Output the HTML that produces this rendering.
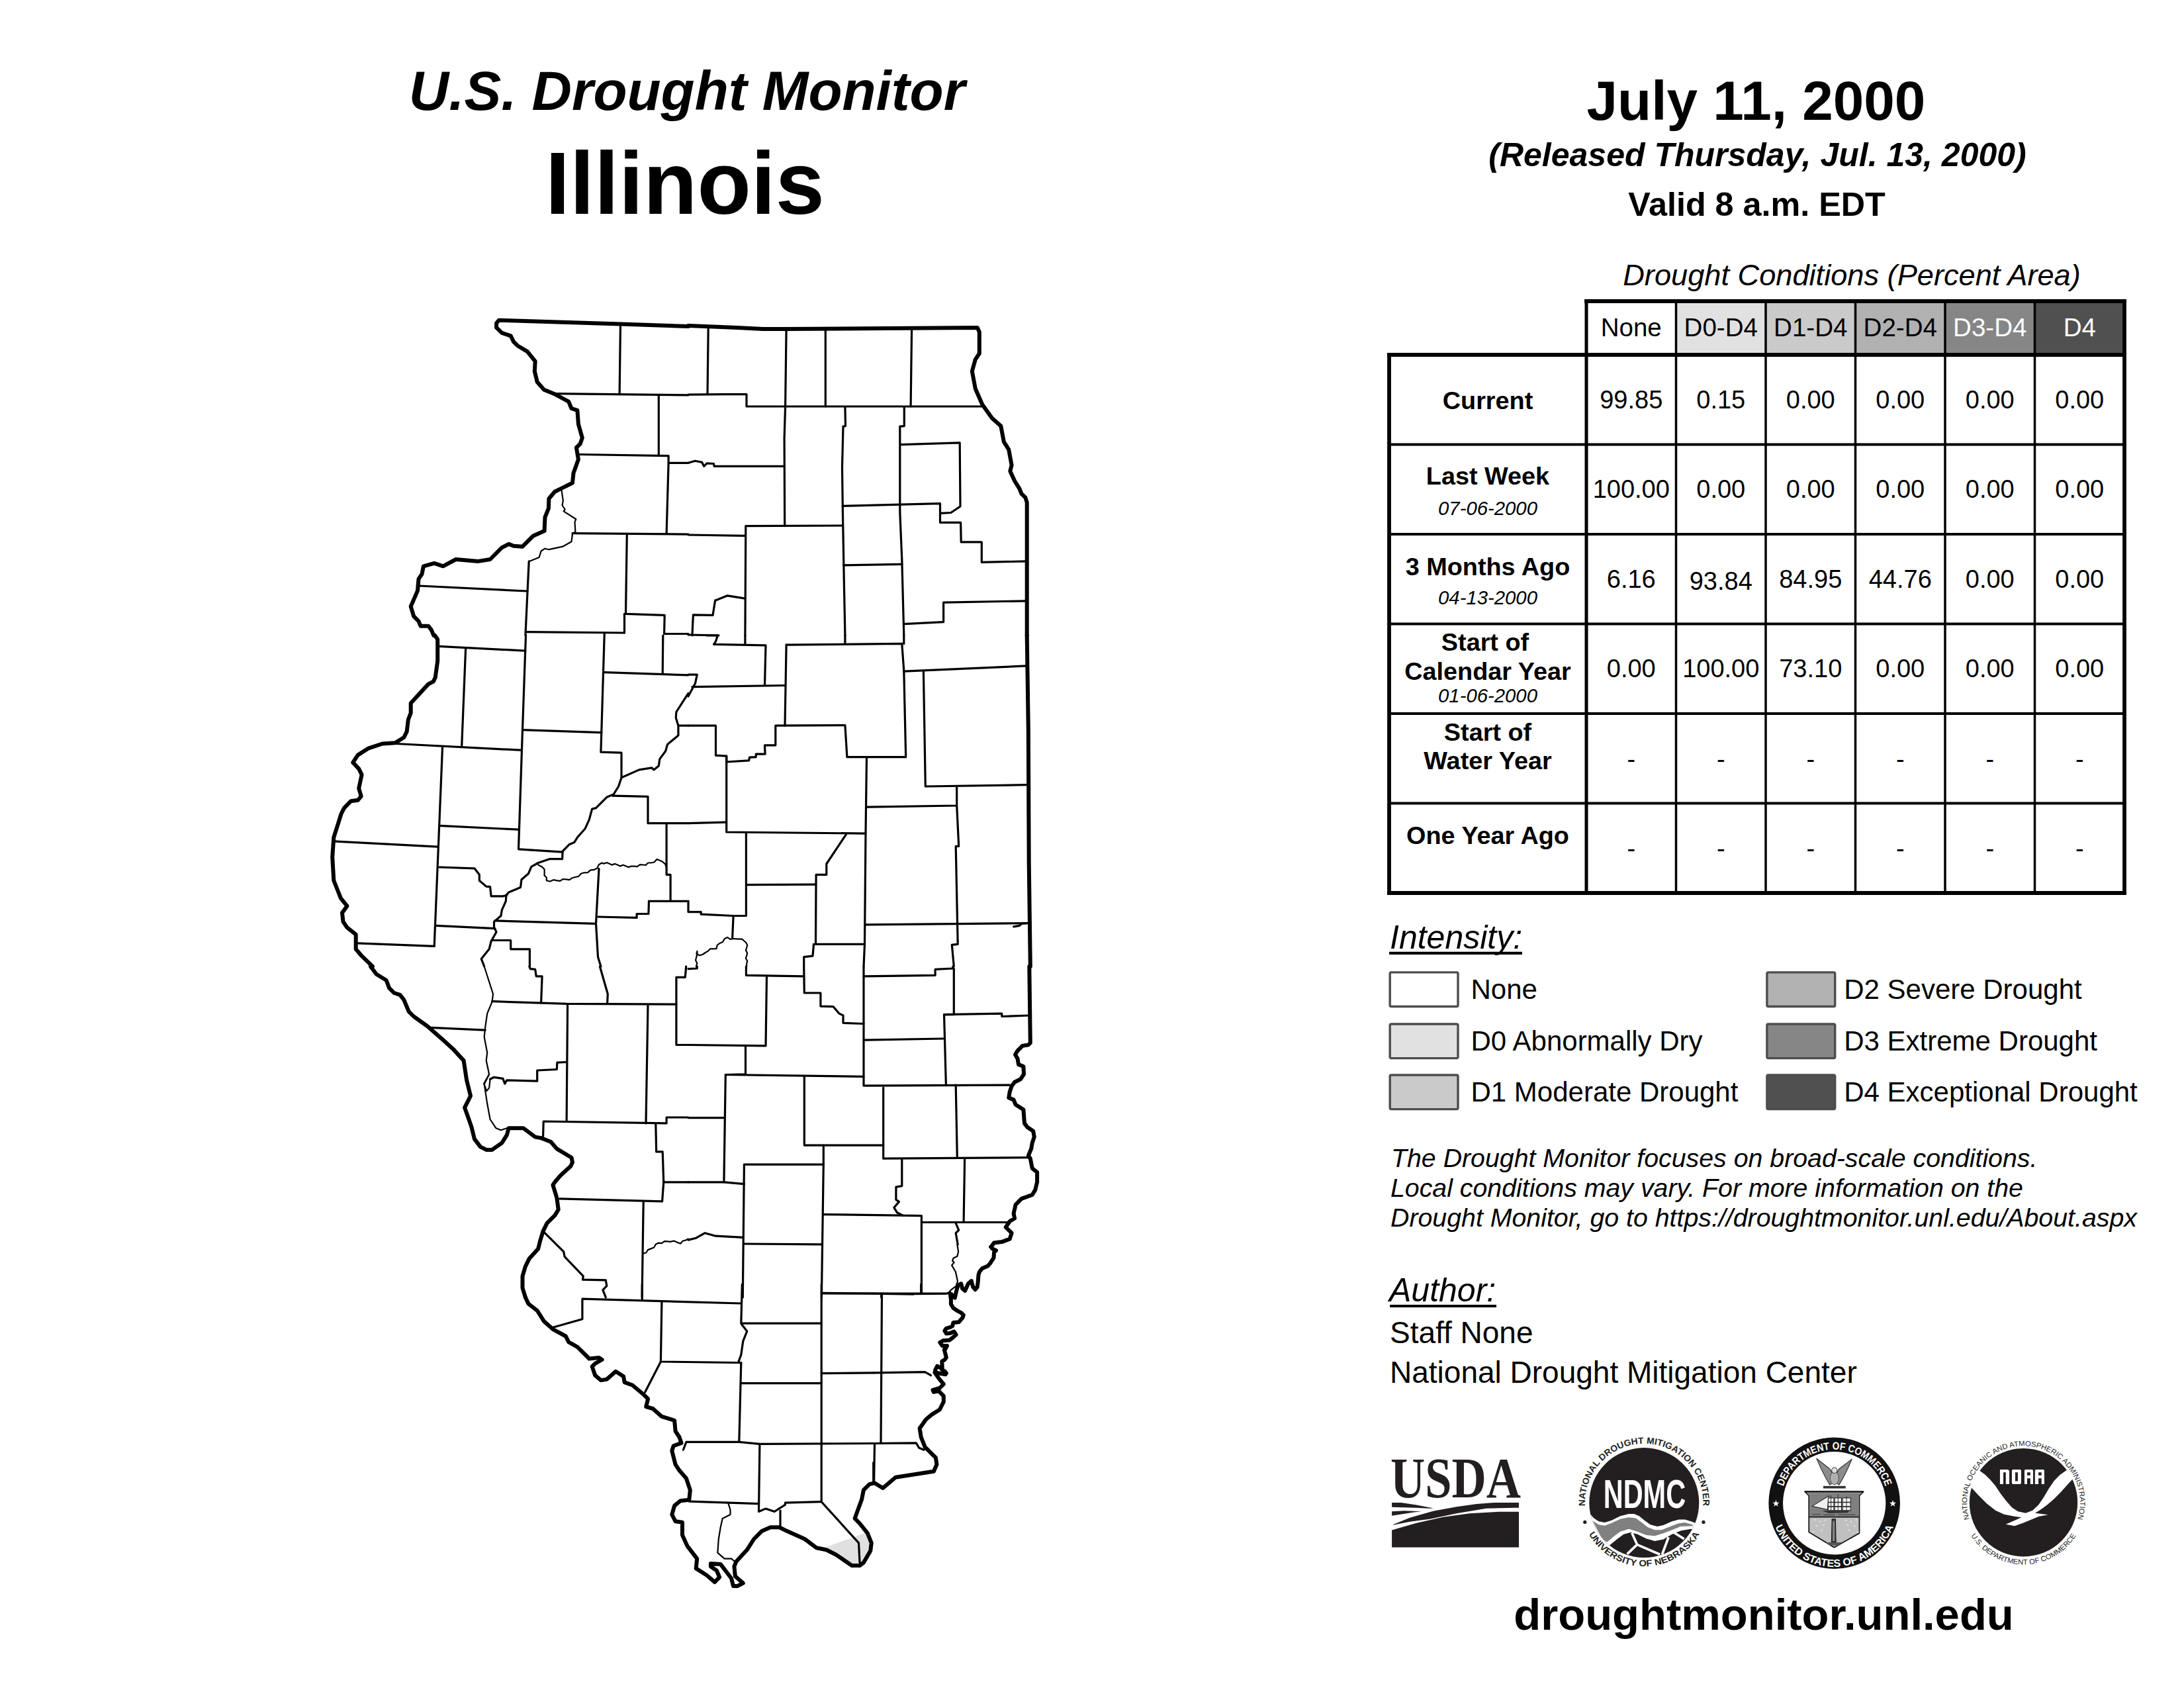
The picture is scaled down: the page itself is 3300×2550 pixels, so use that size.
<!DOCTYPE html>
<html><head><meta charset="utf-8"><style>
html,body{margin:0;padding:0;background:#fff;width:3300px;height:2550px;overflow:hidden}
svg{display:block}
</style></head><body>
<svg width="3300" height="2550" viewBox="0 0 3300 2550">
<rect width="3300" height="2550" fill="#fff"/>
<polygon points="1248.6,2336.8 1310.8,2314.6 1316.7,2330.9 1313.8,2342.7 1304.9,2360.5 1290.1,2362.9 1263.4,2348.1" fill="#e0e0e0" stroke="none"/>
<g fill="none" stroke="#000" stroke-linejoin="round" stroke-linecap="round">
<polyline points="848.7,741.3 850.8,756.1 849.6,763.5 853.7,769.5 851.7,772.4 870.3,784.3 868.5,788.7 869.4,803.5 865.0,806.5 863.5,818.3 850.2,825.7 829.4,830.2 823.5,828.7 817.6,832.5 814.6,842.0 799.8,847.9" stroke-width="2.2"/>
<polyline points="813.2,1306.5 819.3,1309.8 822.6,1313.3 822.7,1317.7 822.5,1322.2 825.8,1325.8 825.9,1330.2 831.0,1331.5 836.2,1329.2 841.3,1330.2 846.2,1330.9 850.6,1328.0 855.5,1328.4 860.4,1329.1 864.5,1326.3 869.4,1325.0 874.4,1323.9 877.9,1319.7 882.7,1318.3 888.1,1318.1 892.3,1314.4 897.6,1313.9 902.4,1311.4 904.8,1306.2 909.4,1303.5 912.2,1304.8 916.7,1303.1 920.7,1304.7 924.6,1306.6 929.1,1304.9 933.1,1306.5 937.1,1308.4 941.5,1306.7 945.5,1308.3 949.5,1310.1 953.7,1308.5 958.3,1308.7 962.9,1309.2 967.0,1306.2 971.6,1306.5 975.9,1306.8 979.2,1303.5 983.4,1303.5 988.5,1302.5 992.5,1298.1 996.8,1299.8 1000.1,1301.2 1005.0,1305.2 1007.1,1310.9" stroke-width="2.2"/>
<polyline points="1051.8,1459.9 1053.3,1455.3 1051.1,1450.6 1052.2,1446.0 1053.6,1441.4 1053.4,1436.8 1052.4,1441.2 1057.1,1443.3 1061.5,1442.0 1065.9,1439.0 1069.9,1436.6 1073.3,1433.3 1077.5,1433.3 1082.5,1433.2 1083.6,1428.0 1087.4,1424.9 1092.1,1423.0 1094.7,1418.2 1099.2,1416.1 1103.3,1418.8 1107.9,1418.0 1112.6,1418.3 1116.4,1418.7 1121.2,1418.6 1124.5,1421.5 1126.9,1423.5 1129.2,1427.5 1128.2,1431.6 1126.9,1435.6 1129.2,1439.6 1128.2,1443.7 1126.9,1447.7 1129.2,1451.8 1128.2,1455.8 1128.2,1459.9" stroke-width="2.2"/>
<polyline points="731.7,1460.0 745.0,1501.5 743.6,1513.3 736.2,1531.1 733.2,1551.8 731.7,1566.6 736.2,1590.3 734.7,1602.1 739.1,1622.9 731.7,1637.7 736.2,1667.3 740.6,1691.0 749.5,1704.3 756.9,1707.3 765.8,1704.3" stroke-width="2.2"/>
<polyline points="739.1,1622.9 731.1,1637.1 735.3,1648.0 739.1,1643.6 740.6,1630.3" stroke-width="2.2"/>
<polyline points="971.6,1893.8 976.2,1892.5 979.0,1888.1 983.4,1886.4 988.2,1884.5 990.7,1879.7 995.3,1877.6 999.9,1878.1 1004.0,1875.1 1008.6,1875.3 1012.8,1875.9 1018.2,1874.6 1022.9,1876.6 1028.4,1878.7 1031.5,1874.7 1036.0,1873.6 1040.0,1871.6" stroke-width="2.2"/>
<polyline points="1100.6,2271.7 1103.5,2280.6 1103.5,2288.0 1091.7,2293.9 1088.7,2307.2 1085.8,2325.0 1084.3,2345.7 1094.6,2354.6 1105.0,2354.6 1112.4,2360.5" stroke-width="2.2"/>
<polyline points="1446.4,1880.0 1448.1,1890.7 1446.4,1897.8 1440.4,1900.7 1439.2,1904.9 1441.6,1907.3 1438.1,1911.4 1444.0,1921.5 1447.0,1935.7 1444.6,1942.8 1436.9,1948.7 1433.9,1952.3 1428.6,1954.7 1380.0,1955.2" stroke-width="2.2"/>
<polyline points="937.5,489.6 936.1,594.7" stroke-width="3.2"/>
<polyline points="836.8,594.7 1040.0,596.8" stroke-width="3.2"/>
<polyline points="995.3,596.8 995.3,688.0" stroke-width="3.2"/>
<polyline points="875.3,686.5 1010.1,688.6 1010.1,699.3 1040.0,699.3" stroke-width="3.2"/>
<polyline points="1010.1,699.3 1007.1,806.5" stroke-width="3.2"/>
<polyline points="865.0,805.6 1040.0,807.1" stroke-width="3.2"/>
<polyline points="947.3,807.1 945.5,927.3 1004.2,929.4 1003.6,957.5 1040.0,957.5" stroke-width="3.2"/>
<polyline points="799.2,847.9 793.9,959.9" stroke-width="3.2"/>
<polyline points="634.0,885.0 796.9,893.0" stroke-width="3.2"/>
<polyline points="795.4,954.6 943.5,956.0" stroke-width="3.2"/>
<polyline points="943.5,927.3 943.5,956.0" stroke-width="3.2"/>
<polyline points="1070.2,494.9 1069.0,595.6" stroke-width="3.2"/>
<polyline points="1040.0,596.2 1094.8,595.6 1128.0,595.6 1128.0,614.0 1485.7,614.0" stroke-width="3.2"/>
<polyline points="1188.1,497.0 1186.6,614.0 1185.1,661.4 1185.7,794.6" stroke-width="3.2"/>
<polyline points="1247.3,497.0 1247.3,614.0" stroke-width="3.2"/>
<polyline points="1377.6,497.0 1376.1,614.0" stroke-width="3.2"/>
<polyline points="1276.9,614.6 1277.5,643.6 1274.0,644.2 1272.5,705.8 1273.4,773.9 1275.4,883.5 1276.9,959.9" stroke-width="3.2"/>
<polyline points="1366.3,614.6 1366.3,643.6 1359.8,644.2 1359.8,773.9 1362.8,845.0 1365.8,959.9" stroke-width="3.2"/>
<polyline points="1040.0,699.3 1050.4,696.3 1060.7,698.4 1063.7,704.3 1068.1,699.9 1078.5,700.5 1079.1,704.3 1185.1,704.3" stroke-width="3.2"/>
<polyline points="1040.0,808.0 1125.9,809.4" stroke-width="3.2"/>
<polyline points="1125.9,959.9 1126.8,794.6 1272.5,794.0" stroke-width="3.2"/>
<polyline points="1273.4,764.4 1420.5,760.6 1420.5,789.3 1451.6,789.3 1452.2,818.9 1483.3,818.9 1483.3,849.4 1551.7,847.9" stroke-width="3.2"/>
<polyline points="1361.3,671.7 1450.2,668.8 1451.0,765.0 1436.8,774.5 1421.4,775.4" stroke-width="3.2"/>
<polyline points="1274.5,853.9 1362.8,852.4" stroke-width="3.2"/>
<polyline points="1365.8,942.7 1425.6,939.7 1425.6,910.1 1551.7,907.8" stroke-width="3.2"/>
<polyline points="1080.6,907.2 1099.2,899.8 1125.9,904.2" stroke-width="3.2"/>
<polyline points="1080.6,907.2 1077.0,929.4 1047.4,928.8 1045.9,959.9" stroke-width="3.2"/>
<polyline points="1040.0,959.0 1085.9,959.9" stroke-width="3.2"/>
<polyline points="663.0,976.3 793.9,983.1" stroke-width="3.2"/>
<polyline points="794.5,960.0 789.5,1102.1 783.5,1282.8 850.2,1287.2" stroke-width="3.2"/>
<polyline points="703.6,980.1 697.7,1127.3" stroke-width="3.2"/>
<polyline points="598.5,1123.5 786.5,1133.2" stroke-width="3.2"/>
<polyline points="668.6,1127.3 656.2,1429.4" stroke-width="3.2"/>
<polyline points="664.2,1247.3 783.5,1253.2" stroke-width="3.2"/>
<polyline points="505.2,1270.9 661.2,1279.2" stroke-width="3.2"/>
<polyline points="539.2,1424.9 656.2,1429.4" stroke-width="3.2"/>
<polyline points="659.2,1398.3 748.0,1402.7" stroke-width="3.2"/>
<polyline points="789.5,1102.7 908.8,1106.6" stroke-width="3.2"/>
<polyline points="913.3,956.4 907.9,1136.2 939.0,1137.1 939.0,1174.7" stroke-width="3.2"/>
<polyline points="913.0,1015.7 1040.0,1019.8" stroke-width="3.2"/>
<polyline points="1001.8,960.0 1001.2,1017.7" stroke-width="3.2"/>
<polyline points="1040.0,1047.4 1021.9,1075.5 1021.3,1084.4 1024.9,1096.2 1040.0,1096.2" stroke-width="3.2"/>
<polyline points="1024.9,1096.2 1024.9,1111.0 1008.6,1124.4 1005.6,1134.7 996.8,1146.6 995.3,1156.9 987.9,1162.9 984.9,1159.9 965.7,1162.9 939.0,1174.7 934.6,1188.0 927.2,1199.9 916.8,1204.3 900.5,1220.6 894.6,1222.1 890.2,1238.4 884.2,1251.7 872.4,1265.0 867.9,1272.4 860.5,1275.4 850.2,1285.8 849.6,1297.6 830.9,1297.6 813.2,1303.5 802.8,1309.4 798.4,1319.8 788.0,1328.7 786.5,1340.5 768.7,1347.9 764.9,1352.4 764.3,1361.3 758.4,1374.6 756.9,1383.5 746.5,1392.4 746.5,1401.2 750.1,1407.8 742.1,1422.0 739.1,1433.8 727.3,1448.6 731.7,1459.9" stroke-width="3.2"/>
<polyline points="925.7,1202.2 979.0,1203.4 979.0,1243.7 1040.0,1243.7" stroke-width="3.2"/>
<polyline points="1007.1,1244.3 1007.1,1321.3 1013.1,1321.3 1013.1,1361.3 1040.0,1361.3" stroke-width="3.2"/>
<polyline points="980.5,1361.3 979.9,1380.5 962.1,1380.5 962.1,1386.4 903.5,1385.0" stroke-width="3.2"/>
<polyline points="905.0,1312.4 900.5,1395.3 903.5,1445.7 907.9,1459.9" stroke-width="3.2"/>
<polyline points="663.6,1310.0 716.9,1311.8 724.3,1321.3 724.3,1330.2 734.7,1339.1 740.6,1339.7 742.1,1353.9 759.9,1353.9 765.8,1352.4" stroke-width="3.2"/>
<polyline points="748.0,1390.9 900.5,1395.3" stroke-width="3.2"/>
<polyline points="743.6,1420.5 771.7,1420.5 771.7,1433.8 800.4,1433.8 800.4,1459.9" stroke-width="3.2"/>
<polyline points="980.5,1361.3 1013.1,1361.3" stroke-width="3.2"/>
<polyline points="1068.1,960.0 1084.4,960.0 1081.5,968.9 1078.5,973.3 1157.0,974.8 1155.5,1035.5" stroke-width="3.2"/>
<polyline points="1125.9,960.0 1125.9,973.3" stroke-width="3.2"/>
<polyline points="1276.9,960.0 1276.9,972.4" stroke-width="3.2"/>
<polyline points="1365.8,960.0 1365.8,972.4" stroke-width="3.2"/>
<polyline points="1188.1,974.2 1362.8,972.4 1365.8,1013.3 1368.7,1143.6 1279.9,1143.6 1276.9,1095.6 1171.8,1096.2 1171.8,1125.8 1155.5,1125.8 1156.1,1139.2 1142.2,1139.2 1142.2,1143.6 1132.4,1144.2 1131.8,1148.9 1097.7,1151.0 1097.7,1142.1 1081.5,1141.2 1081.5,1096.2 1040.0,1096.2" stroke-width="3.2"/>
<polyline points="1188.1,974.2 1186.0,1096.2" stroke-width="3.2"/>
<polyline points="1040.0,1019.2 1053.3,1019.2 1050.4,1032.6 1040.0,1051.8" stroke-width="3.2"/>
<polyline points="1045.9,1037.6 1185.1,1035.5" stroke-width="3.2"/>
<polyline points="1365.8,1014.2 1551.7,1005.9" stroke-width="3.2"/>
<polyline points="1395.4,1014.8 1398.3,1188.0 1551.7,1185.7" stroke-width="3.2"/>
<polyline points="1309.5,1144.2 1308.0,1259.1 1097.7,1257.0 1097.7,1142.1" stroke-width="3.2"/>
<polyline points="1040.0,1243.7 1096.3,1242.2" stroke-width="3.2"/>
<polyline points="1309.5,1219.1 1445.7,1217.0 1445.7,1189.5" stroke-width="3.2"/>
<polyline points="1445.7,1217.0 1448.7,1278.4 1444.2,1278.4 1447.2,1426.4 1438.3,1427.3 1441.3,1459.9" stroke-width="3.2"/>
<polyline points="1308.0,1259.1 1306.5,1426.4 1305.0,1459.9" stroke-width="3.2"/>
<polyline points="1127.4,1258.5 1127.4,1383.5 1108.1,1383.5 1059.2,1381.1 1059.2,1377.6 1040.0,1377.6 1040.0,1361.3" stroke-width="3.2"/>
<polyline points="1278.4,1260.6 1248.8,1305.0 1248.8,1321.3 1233.1,1321.3 1232.5,1426.4 1306.5,1426.4" stroke-width="3.2"/>
<polyline points="1128.2,1336.7 1232.5,1336.1" stroke-width="3.2"/>
<polyline points="1308.0,1396.8 1551.7,1394.7" stroke-width="3.2"/>
<polyline points="1229.5,1426.4 1228.0,1444.2 1214.7,1445.7 1214.7,1459.9" stroke-width="3.2"/>
<polyline points="1108.1,1383.5 1106.6,1417.5" stroke-width="3.2"/>
<polyline points="1531.6,1399.8 1540.5,1398.3 1543.4,1395.3 1552.3,1394.7" stroke-width="3.2"/>
<polyline points="799.8,1460.0 801.3,1463.6 808.7,1464.4 810.2,1474.8 819.1,1474.8 817.6,1514.8" stroke-width="3.2"/>
<polyline points="906.4,1460.0 918.3,1501.5 917.7,1514.8" stroke-width="3.2"/>
<polyline points="743.6,1512.7 856.1,1516.3 1021.9,1517.2 1021.9,1578.5 1040.0,1578.5" stroke-width="3.2"/>
<polyline points="1021.9,1517.2 1021.9,1476.3 1035.3,1476.3 1036.7,1460.0" stroke-width="3.2"/>
<polyline points="650.3,1552.4 733.2,1556.2" stroke-width="3.2"/>
<polyline points="857.6,1516.3 856.1,1694.0" stroke-width="3.2"/>
<polyline points="979.0,1517.7 976.0,1696.9" stroke-width="3.2"/>
<polyline points="820.6,1716.2 821.2,1694.0 1007.1,1696.9 1007.1,1688.0 1040.0,1688.0" stroke-width="3.2"/>
<polyline points="990.8,1698.4 991.7,1739.9 1001.2,1739.9 1002.7,1785.8 1000.6,1814.8 845.7,1810.9" stroke-width="3.2"/>
<polyline points="1002.7,1785.8 1040.0,1785.8" stroke-width="3.2"/>
<polyline points="972.2,1815.4 970.1,1959.9" stroke-width="3.2"/>
<polyline points="822.0,1861.3 851.7,1890.9 853.1,1898.3 881.3,1927.9 880.4,1933.2 915.3,1933.8 916.8,1942.7 910.9,1948.6 915.3,1959.9" stroke-width="3.2"/>
<polyline points="740.6,1630.3 746.5,1627.3 759.9,1629.4 762.8,1637.1 765.8,1631.8 811.7,1633.2 811.7,1617.0 841.3,1615.5 841.9,1605.1 855.5,1604.5" stroke-width="3.2"/>
<polyline points="1040.0,1463.6 1053.3,1463.0 1053.3,1460.0" stroke-width="3.2"/>
<polyline points="1127.4,1460.0 1127.4,1473.3 1214.7,1474.8" stroke-width="3.2"/>
<polyline points="1214.7,1460.0 1215.3,1500.0 1239.9,1500.0 1239.9,1520.1 1259.1,1520.7 1268.0,1531.1 1274.0,1534.0 1274.0,1545.3 1305.0,1546.5" stroke-width="3.2"/>
<polyline points="1305.0,1460.0 1305.0,1474.8 1413.1,1473.3 1413.1,1464.4 1439.8,1463.0 1439.8,1460.0" stroke-width="3.2"/>
<polyline points="1158.5,1474.8 1157.0,1579.9 1040.0,1578.5" stroke-width="3.2"/>
<polyline points="1305.0,1474.8 1305.0,1640.1 1525.7,1639.2" stroke-width="3.2"/>
<polyline points="1441.3,1463.0 1441.3,1532.6 1426.5,1532.6 1429.4,1639.2" stroke-width="3.2"/>
<polyline points="1426.5,1532.6 1513.8,1531.1 1513.8,1535.5 1555.3,1534.0" stroke-width="3.2"/>
<polyline points="1306.5,1571.1 1426.5,1569.0" stroke-width="3.2"/>
<polyline points="1126.5,1579.9 1126.5,1622.9 1096.3,1623.5 1093.9,1785.8 1040.0,1785.8" stroke-width="3.2"/>
<polyline points="1096.3,1623.5 1305.0,1626.4" stroke-width="3.2"/>
<polyline points="1040.0,1688.6 1093.9,1688.6" stroke-width="3.2"/>
<polyline points="1215.3,1626.4 1215.3,1730.1 1334.7,1730.1 1334.7,1643.0" stroke-width="3.2"/>
<polyline points="1334.7,1730.1 1334.7,1750.2 1555.3,1748.7" stroke-width="3.2"/>
<polyline points="1444.2,1639.2 1446.3,1748.7" stroke-width="3.2"/>
<polyline points="1244.3,1730.1 1244.3,1759.1 1124.4,1759.1 1122.3,1959.9" stroke-width="3.2"/>
<polyline points="1093.9,1785.8 1124.4,1788.7" stroke-width="3.2"/>
<polyline points="1244.3,1759.1 1241.4,1959.9" stroke-width="3.2"/>
<polyline points="1362.8,1751.7 1362.8,1791.7 1353.9,1793.2 1353.9,1812.4 1358.4,1815.4 1350.9,1824.3 1355.4,1831.7 1364.3,1836.1 1392.4,1836.7 1392.4,1954.0" stroke-width="3.2"/>
<polyline points="1244.3,1834.6 1364.3,1836.1" stroke-width="3.2"/>
<polyline points="1457.6,1751.7 1456.1,1846.5" stroke-width="3.2"/>
<polyline points="1392.4,1846.5 1525.7,1846.5" stroke-width="3.2"/>
<polyline points="1124.4,1879.0 1241.4,1879.9" stroke-width="3.2"/>
<polyline points="1040.0,1873.1 1051.8,1870.2 1065.2,1862.7 1081.5,1867.2 1122.9,1869.3" stroke-width="3.2"/>
<polyline points="1444.2,1847.9 1448.7,1858.3 1444.2,1862.7 1447.2,1879.9" stroke-width="3.2"/>
<polyline points="1241.4,1954.0 1433.9,1954.0" stroke-width="3.2"/>
<polyline points="1331.7,1954.0 1331.7,1959.9" stroke-width="3.2"/>
<polyline points="970.3,1940.0 970.3,1963.7" stroke-width="3.2"/>
<polyline points="835.5,2005.2 879.9,1992.7 879.9,1962.2 1119.8,1969.0" stroke-width="3.2"/>
<polyline points="1121.3,1940.0 1119.8,1999.2 1239.7,1999.2" stroke-width="3.2"/>
<polyline points="999.9,1966.7 998.4,2057.0 1112.4,2058.5 1119.8,2058.5" stroke-width="3.2"/>
<polyline points="998.4,2057.0 974.7,2102.9" stroke-width="3.2"/>
<polyline points="1120.7,2000.7 1128.7,2011.1 1122.8,2025.9 1119.8,2046.6 1115.4,2058.5" stroke-width="3.2"/>
<polyline points="1119.8,2058.5 1116.8,2178.4 1036.9,2178.4 1032.4,2190.2" stroke-width="3.2"/>
<polyline points="1120.7,2089.6 1239.7,2089.6" stroke-width="3.2"/>
<polyline points="1241.2,1940.0 1241.2,2268.7 1297.5,2330.9 1299.0,2360.5" stroke-width="3.2"/>
<polyline points="1242.7,1953.3 1320.0,1954.2" stroke-width="3.2"/>
<polyline points="1241.2,2074.7 1320.0,2073.9" stroke-width="3.2"/>
<polyline points="1116.8,2178.4 1147.9,2181.4 1320.0,2180.5" stroke-width="3.2"/>
<polyline points="1147.9,2181.4 1146.5,2283.5 1156.8,2279.1 1170.2,2283.5 1186.4,2273.2 1186.4,2270.2 1241.2,2268.7" stroke-width="3.2"/>
<polyline points="1041.3,2268.1 1146.5,2271.7" stroke-width="3.2"/>
<polyline points="1179.0,2282.0 1179.0,2307.2" stroke-width="3.2"/>
<polyline points="1319.7,2209.5 1319.7,2240.6" stroke-width="3.2"/>
<polyline points="1391.7,1940.0 1391.7,1953.3" stroke-width="3.2"/>
<polyline points="1320.0,1954.2 1379.9,1955.1" stroke-width="3.2"/>
<polyline points="1332.5,1955.4 1331.0,2179.9" stroke-width="3.2"/>
<polyline points="1320.0,2073.9 1397.6,2072.7 1406.5,2077.7" stroke-width="3.2"/>
<polyline points="1320.0,2180.5 1384.3,2179.9 1388.7,2187.3 1396.1,2190.2" stroke-width="3.2"/>
<polyline points="1321.5,2181.4 1320.6,2239.1" stroke-width="3.2"/>
<polyline points="1040.0,492.9 937.5,489.6 753.9,483.7 750.1,488.1 750.1,494.9 758.4,502.9 771.7,507.4 776.1,516.3 782.1,522.2 796.9,531.1 808.7,545.9 807.8,560.7 811.7,577.0 822.0,588.8 836.8,594.7 859.1,606.6 863.5,617.0 872.4,619.9 873.9,640.6 879.8,661.4 876.8,670.3 870.9,676.2 873.9,694.0 866.5,714.7 865.0,729.5 850.2,736.9 838.3,742.8 829.4,753.2 828.9,768.0 823.5,781.3 822.6,802.0 805.8,809.4 789.5,825.7 776.1,824.8 768.7,821.9 758.4,827.2 740.6,845.0 722.8,847.9 688.8,845.0 669.5,855.3 656.2,850.9 639.9,855.3 637.5,867.2 632.5,874.6 631.0,892.4 620.7,916.1 625.1,930.9 632.5,938.3 635.5,945.7 647.3,945.7 651.8,951.6 655.3,959.9" stroke-width="6"/>
<polyline points="1040.0,492.0 1114.0,494.9 1152.5,497.0 1188.1,497.0 1476.8,494.9 1479.8,501.5 1479.8,534.0 1473.8,542.9 1468.8,560.7 1473.8,587.3 1484.2,611.0 1499.0,631.8 1512.3,643.6 1516.8,667.3 1524.2,679.1 1528.6,702.8 1526.3,711.7 1533.1,726.5 1540.5,738.4 1543.4,745.8 1549.4,751.7 1551.7,759.1 1551.7,959.9" stroke-width="6"/>
<polyline points="657.1,960.0 661.2,965.9 661.2,998.5 657.7,1023.7 654.7,1029.6 647.3,1033.4 639.9,1041.4 620.7,1062.2 620.7,1077.0 616.8,1087.3 614.7,1105.1 610.3,1114.0 597.0,1122.3 577.7,1123.5 557.0,1130.3 540.7,1140.6 533.3,1151.9 542.2,1161.4 546.6,1170.3 542.2,1191.0 545.7,1202.8 540.7,1208.8 530.3,1210.2 520.0,1220.6 515.5,1229.5 508.1,1253.2 504.3,1265.0 502.2,1294.6 504.3,1330.2 514.9,1356.8 524.4,1368.7 517.0,1379.0 518.5,1392.4 524.4,1401.2 537.7,1411.6 537.7,1433.8 546.6,1444.2 562.9,1459.9" stroke-width="6"/>
<polyline points="1551.7,960.0 1553.8,1102.1 1554.7,1303.5 1556.8,1459.9" stroke-width="6"/>
<polyline points="560.0,1460.0 568.8,1471.8 583.6,1480.7 588.1,1492.6 595.5,1500.0 604.4,1502.9 610.3,1510.3 617.7,1528.1 625.1,1535.5 645.8,1550.3 669.5,1571.1 684.3,1584.4 700.6,1602.1 705.1,1631.8 711.0,1655.5 705.1,1667.3 702.1,1673.2 709.5,1694.0 712.5,1702.8 716.9,1720.6 725.8,1732.4 734.7,1736.9 743.6,1736.9 758.4,1726.5 765.8,1714.7 768.7,1704.3 790.9,1704.3 808.7,1717.6 817.6,1719.1 832.4,1725.0 841.3,1735.4 863.5,1748.7 865.0,1756.1 862.0,1762.1 847.2,1775.4 838.3,1785.8 835.4,1790.2 841.3,1809.4 843.7,1827.2 838.3,1836.1 826.5,1847.9 820.6,1859.8 816.1,1874.6 813.2,1886.4 799.8,1901.2 793.9,1913.1 789.5,1927.9 789.5,1945.7 793.9,1959.9" stroke-width="6"/>
<polyline points="1555.3,1460.0 1556.8,1575.5 1553.8,1578.5 1544.9,1579.9 1537.5,1587.3 1534.0,1593.3 1537.5,1599.2 1539.0,1608.1 1546.4,1611.0 1547.0,1622.9 1542.0,1630.3 1533.1,1634.7 1528.6,1640.6 1525.7,1649.5 1524.2,1658.4 1531.6,1661.4 1534.6,1668.8 1546.4,1676.2 1547.9,1696.9 1552.3,1702.8 1561.2,1708.8 1562.7,1717.6 1559.7,1726.5 1558.2,1735.4 1553.8,1745.8 1556.8,1750.2 1559.7,1765.0 1567.1,1770.9 1567.1,1785.8 1564.2,1797.6 1559.7,1805.0 1543.4,1810.9 1534.6,1819.8 1531.6,1833.1 1533.1,1840.5 1525.7,1845.0 1519.7,1853.9 1528.6,1862.7 1525.7,1871.6 1513.8,1876.1 1502.0,1877.6 1497.5,1883.5" stroke-width="6"/>
<polyline points="793.8,1959.8 798.5,1969.6 811.8,1980.0 822.2,1996.3 835.5,2008.1 854.8,2018.5 859.2,2027.4 872.5,2034.8 890.3,2052.5 905.1,2051.1 909.6,2054.0 899.2,2059.9 894.7,2064.4 899.2,2077.7 908.1,2085.1 917.0,2083.6 930.3,2071.8 942.1,2079.2 943.6,2088.1 955.5,2092.5 973.2,2107.3 979.1,2113.2 976.2,2125.1 986.5,2128.0 999.9,2139.9 1019.1,2145.8 1020.6,2162.1 1026.5,2171.0 1029.5,2179.9 1017.6,2184.3 1015.3,2191.7 1020.6,2212.4 1026.5,2221.3 1036.9,2233.2 1042.8,2250.9 1041.3,2265.8 1028.0,2267.2 1019.1,2274.6 1015.3,2288.0 1020.6,2298.3 1031.0,2299.8 1031.0,2319.1 1038.4,2335.3 1053.2,2354.6 1051.7,2369.4 1068.0,2379.8 1079.8,2390.1 1087.2,2382.7 1082.8,2372.4 1073.9,2366.4 1073.9,2362.0 1088.7,2362.9 1105.0,2384.2 1108.0,2396.1 1113.9,2396.1 1122.8,2391.6 1110.9,2381.2 1109.4,2366.4 1112.4,2359.0 1128.7,2341.3 1139.1,2325.0 1150.9,2313.1 1164.2,2307.2 1177.6,2307.2 1189.4,2313.1 1216.1,2325.0 1233.8,2338.3 1248.6,2341.3 1263.4,2348.7 1287.1,2365.0 1299.0,2365.0 1304.9,2360.5 1315.3,2342.7 1316.7,2330.9 1310.8,2316.1 1299.0,2301.3 1291.6,2293.9 1297.5,2277.6 1301.9,2265.8 1304.9,2250.9 1313.8,2242.1 1320.0,2240.6" stroke-width="6"/>
<polyline points="1428.7,2076.2 1419.8,2074.7 1412.4,2073.3 1418.4,2082.1 1425.8,2091.0 1419.8,2097.0 1409.5,2099.9 1410.9,2102.9 1418.4,2101.4 1425.8,2108.8 1425.8,2117.7 1419.8,2129.5 1408.0,2136.9 1399.1,2144.3 1389.6,2157.7 1391.7,2171.0 1397.6,2185.8 1413.9,2202.1 1415.4,2212.4 1410.9,2222.8 1353.2,2231.7 1334.0,2248.0 1320.6,2239.7" stroke-width="6"/>
<polyline points="1497.3,1883.6 1499.7,1886.5 1505.0,1888.9 1502.1,1891.8 1501.5,1900.1 1496.1,1908.4 1492.6,1912.6 1484.3,1916.1 1480.1,1920.9 1478.4,1926.2 1477.8,1935.7 1476.6,1944.6 1473.6,1948.1 1470.1,1944.0 1467.7,1935.1 1462.9,1939.2 1458.2,1949.9 1454.1,1946.4 1452.3,1939.2 1447.5,1941.6 1444.6,1952.3 1442.8,1960.6 1438.1,1955.8 1435.7,1954.1 1436.9,1962.9 1436.9,1970.1 1440.4,1976.0 1446.4,1980.1 1452.3,1983.1 1455.8,1986.6 1454.7,1990.2 1448.7,1997.3 1440.4,1997.9 1439.2,2003.2 1435.7,2005.0 1429.8,2006.8 1427.4,2010.3 1429.8,2014.5 1435.7,2013.9 1441.6,2011.5 1444.6,2016.3 1439.2,2021.0 1434.5,2024.6 1425.0,2025.2 1420.3,2028.1 1423.8,2032.9 1431.0,2032.9 1428.6,2037.6 1426.8,2038.8 1429.8,2050.6 1427.4,2054.2 1423.3,2056.6 1423.8,2069.6 1427.4,2071.4 1429.8,2074.3" stroke-width="6"/>
<polyline points="1413.2,2069.6 1416.1,2063.7 1421.5,2066.6 1425.0,2070.8" stroke-width="6"/>
</g>
<rect x="2397" y="455" width="135.5" height="81" fill="#ffffff"/><rect x="2532.5" y="455" width="135.5" height="81" fill="#e1e1e1"/><rect x="2668" y="455" width="135.5" height="81" fill="#cacaca"/><rect x="2803.5" y="455" width="135.5" height="81" fill="#b1b1b1"/><rect x="2939" y="455" width="135.5" height="81" fill="#868686"/><rect x="3074.5" y="455" width="135.5" height="81" fill="#505050"/><rect x="2099" y="1437.8" width="201" height="4.2" fill="#000"/><rect x="2100.2" y="1468.9" width="102.8" height="51.6" rx="2" fill="#ffffff" stroke="#4d4d4d" stroke-width="3.4"/><rect x="2100.2" y="1547.0" width="102.8" height="51.6" rx="2" fill="#e1e1e1" stroke="#4d4d4d" stroke-width="3.4"/><rect x="2100.2" y="1624.0" width="102.8" height="51.6" rx="2" fill="#cacaca" stroke="#4d4d4d" stroke-width="3.4"/><rect x="2669.8999999999996" y="1468.9" width="102.8" height="51.6" rx="2" fill="#b1b1b1" stroke="#4d4d4d" stroke-width="3.4"/><rect x="2669.8999999999996" y="1547.0" width="102.8" height="51.6" rx="2" fill="#868686" stroke="#4d4d4d" stroke-width="3.4"/><rect x="2669.8999999999996" y="1624.0" width="102.8" height="51.6" rx="2" fill="#505050" stroke="#4d4d4d" stroke-width="3.4"/><rect x="2100" y="1971" width="161" height="4" fill="#000"/>
<line x1="2397" y1="455" x2="3210" y2="455" stroke="#000" stroke-width="5.8" stroke-linecap="square"/><line x1="2532.5" y1="455" x2="2532.5" y2="1349" stroke="#000" stroke-width="3.5" stroke-linecap="square"/><line x1="2668" y1="455" x2="2668" y2="1349" stroke="#000" stroke-width="3.5" stroke-linecap="square"/><line x1="2803.5" y1="455" x2="2803.5" y2="1349" stroke="#000" stroke-width="3.5" stroke-linecap="square"/><line x1="2939" y1="455" x2="2939" y2="1349" stroke="#000" stroke-width="3.5" stroke-linecap="square"/><line x1="3074.5" y1="455" x2="3074.5" y2="1349" stroke="#000" stroke-width="3.5" stroke-linecap="square"/><line x1="2397" y1="455" x2="2397" y2="1349" stroke="#000" stroke-width="5" stroke-linecap="square"/><line x1="3210" y1="455" x2="3210" y2="1349" stroke="#000" stroke-width="5.8" stroke-linecap="square"/><line x1="2099" y1="536" x2="3210" y2="536" stroke="#000" stroke-width="5.8" stroke-linecap="square"/><line x1="2099" y1="536" x2="2099" y2="1349" stroke="#000" stroke-width="5.8" stroke-linecap="square"/><line x1="2099" y1="671.5" x2="3210" y2="671.5" stroke="#000" stroke-width="4" stroke-linecap="square"/><line x1="2099" y1="807" x2="3210" y2="807" stroke="#000" stroke-width="4" stroke-linecap="square"/><line x1="2099" y1="942.5" x2="3210" y2="942.5" stroke="#000" stroke-width="4" stroke-linecap="square"/><line x1="2099" y1="1078" x2="3210" y2="1078" stroke="#000" stroke-width="4" stroke-linecap="square"/><line x1="2099" y1="1213.5" x2="3210" y2="1213.5" stroke="#000" stroke-width="4" stroke-linecap="square"/><line x1="2099" y1="1349" x2="3210" y2="1349" stroke="#000" stroke-width="5.8" stroke-linecap="square"/>
<text x="1038" y="166" font-family="Liberation Sans, sans-serif" font-size="83.6" font-weight="bold" font-style="italic" text-anchor="middle" fill="#000" >U.S. Drought Monitor</text><text x="1035" y="323" font-family="Liberation Sans, sans-serif" font-size="133.2" font-weight="bold" font-style="normal" text-anchor="middle" fill="#000" >Illinois</text><text x="2653.5" y="181" font-family="Liberation Sans, sans-serif" font-size="83.7" font-weight="bold" font-style="normal" text-anchor="middle" fill="#000" >July 11, 2000</text><text x="2655.5" y="250.6" font-family="Liberation Sans, sans-serif" font-size="50" font-weight="bold" font-style="italic" text-anchor="middle" fill="#000" >(Released Thursday, Jul. 13, 2000)</text><text x="2654.5" y="325.6" font-family="Liberation Sans, sans-serif" font-size="50.3" font-weight="bold" font-style="normal" text-anchor="middle" fill="#000" >Valid 8 a.m. EDT</text><text x="2798" y="430.9" font-family="Liberation Sans, sans-serif" font-size="45.2" font-weight="normal" font-style="italic" text-anchor="middle" fill="#000" >Drought Conditions (Percent Area)</text><text x="2464.75" y="508" font-family="Liberation Sans, sans-serif" font-size="38.5" font-weight="normal" font-style="normal" text-anchor="middle" fill="#000" >None</text><text x="2600.25" y="508" font-family="Liberation Sans, sans-serif" font-size="38.5" font-weight="normal" font-style="normal" text-anchor="middle" fill="#000" >D0-D4</text><text x="2735.75" y="508" font-family="Liberation Sans, sans-serif" font-size="38.5" font-weight="normal" font-style="normal" text-anchor="middle" fill="#000" >D1-D4</text><text x="2871.25" y="508" font-family="Liberation Sans, sans-serif" font-size="38.5" font-weight="normal" font-style="normal" text-anchor="middle" fill="#000" >D2-D4</text><text x="3006.75" y="508" font-family="Liberation Sans, sans-serif" font-size="38.5" font-weight="normal" font-style="normal" text-anchor="middle" fill="#fff" >D3-D4</text><text x="3142.25" y="508" font-family="Liberation Sans, sans-serif" font-size="38.5" font-weight="normal" font-style="normal" text-anchor="middle" fill="#fff" >D4</text><text x="2464.75" y="617.3" font-family="Liberation Sans, sans-serif" font-size="38" font-weight="normal" font-style="normal" text-anchor="middle" fill="#000" >99.85</text><text x="2600.25" y="617.3" font-family="Liberation Sans, sans-serif" font-size="38" font-weight="normal" font-style="normal" text-anchor="middle" fill="#000" >0.15</text><text x="2735.75" y="617.3" font-family="Liberation Sans, sans-serif" font-size="38" font-weight="normal" font-style="normal" text-anchor="middle" fill="#000" >0.00</text><text x="2871.25" y="617.3" font-family="Liberation Sans, sans-serif" font-size="38" font-weight="normal" font-style="normal" text-anchor="middle" fill="#000" >0.00</text><text x="3006.75" y="617.3" font-family="Liberation Sans, sans-serif" font-size="38" font-weight="normal" font-style="normal" text-anchor="middle" fill="#000" >0.00</text><text x="3142.25" y="617.3" font-family="Liberation Sans, sans-serif" font-size="38" font-weight="normal" font-style="normal" text-anchor="middle" fill="#000" >0.00</text><text x="2464.75" y="751.7" font-family="Liberation Sans, sans-serif" font-size="38" font-weight="normal" font-style="normal" text-anchor="middle" fill="#000" >100.00</text><text x="2600.25" y="751.7" font-family="Liberation Sans, sans-serif" font-size="38" font-weight="normal" font-style="normal" text-anchor="middle" fill="#000" >0.00</text><text x="2735.75" y="751.7" font-family="Liberation Sans, sans-serif" font-size="38" font-weight="normal" font-style="normal" text-anchor="middle" fill="#000" >0.00</text><text x="2871.25" y="751.7" font-family="Liberation Sans, sans-serif" font-size="38" font-weight="normal" font-style="normal" text-anchor="middle" fill="#000" >0.00</text><text x="3006.75" y="751.7" font-family="Liberation Sans, sans-serif" font-size="38" font-weight="normal" font-style="normal" text-anchor="middle" fill="#000" >0.00</text><text x="3142.25" y="751.7" font-family="Liberation Sans, sans-serif" font-size="38" font-weight="normal" font-style="normal" text-anchor="middle" fill="#000" >0.00</text><text x="2464.75" y="887.6" font-family="Liberation Sans, sans-serif" font-size="38" font-weight="normal" font-style="normal" text-anchor="middle" fill="#000" >6.16</text><text x="2600.25" y="891" font-family="Liberation Sans, sans-serif" font-size="38" font-weight="normal" font-style="normal" text-anchor="middle" fill="#000" >93.84</text><text x="2735.75" y="887.6" font-family="Liberation Sans, sans-serif" font-size="38" font-weight="normal" font-style="normal" text-anchor="middle" fill="#000" >84.95</text><text x="2871.25" y="887.6" font-family="Liberation Sans, sans-serif" font-size="38" font-weight="normal" font-style="normal" text-anchor="middle" fill="#000" >44.76</text><text x="3006.75" y="887.6" font-family="Liberation Sans, sans-serif" font-size="38" font-weight="normal" font-style="normal" text-anchor="middle" fill="#000" >0.00</text><text x="3142.25" y="887.6" font-family="Liberation Sans, sans-serif" font-size="38" font-weight="normal" font-style="normal" text-anchor="middle" fill="#000" >0.00</text><text x="2464.75" y="1023" font-family="Liberation Sans, sans-serif" font-size="38" font-weight="normal" font-style="normal" text-anchor="middle" fill="#000" >0.00</text><text x="2600.25" y="1023" font-family="Liberation Sans, sans-serif" font-size="38" font-weight="normal" font-style="normal" text-anchor="middle" fill="#000" >100.00</text><text x="2735.75" y="1023" font-family="Liberation Sans, sans-serif" font-size="38" font-weight="normal" font-style="normal" text-anchor="middle" fill="#000" >73.10</text><text x="2871.25" y="1023" font-family="Liberation Sans, sans-serif" font-size="38" font-weight="normal" font-style="normal" text-anchor="middle" fill="#000" >0.00</text><text x="3006.75" y="1023" font-family="Liberation Sans, sans-serif" font-size="38" font-weight="normal" font-style="normal" text-anchor="middle" fill="#000" >0.00</text><text x="3142.25" y="1023" font-family="Liberation Sans, sans-serif" font-size="38" font-weight="normal" font-style="normal" text-anchor="middle" fill="#000" >0.00</text><text x="2464.75" y="1160" font-family="Liberation Sans, sans-serif" font-size="38" font-weight="normal" font-style="normal" text-anchor="middle" fill="#000" >-</text><text x="2600.25" y="1160" font-family="Liberation Sans, sans-serif" font-size="38" font-weight="normal" font-style="normal" text-anchor="middle" fill="#000" >-</text><text x="2735.75" y="1160" font-family="Liberation Sans, sans-serif" font-size="38" font-weight="normal" font-style="normal" text-anchor="middle" fill="#000" >-</text><text x="2871.25" y="1160" font-family="Liberation Sans, sans-serif" font-size="38" font-weight="normal" font-style="normal" text-anchor="middle" fill="#000" >-</text><text x="3006.75" y="1160" font-family="Liberation Sans, sans-serif" font-size="38" font-weight="normal" font-style="normal" text-anchor="middle" fill="#000" >-</text><text x="3142.25" y="1160" font-family="Liberation Sans, sans-serif" font-size="38" font-weight="normal" font-style="normal" text-anchor="middle" fill="#000" >-</text><text x="2464.75" y="1295" font-family="Liberation Sans, sans-serif" font-size="38" font-weight="normal" font-style="normal" text-anchor="middle" fill="#000" >-</text><text x="2600.25" y="1295" font-family="Liberation Sans, sans-serif" font-size="38" font-weight="normal" font-style="normal" text-anchor="middle" fill="#000" >-</text><text x="2735.75" y="1295" font-family="Liberation Sans, sans-serif" font-size="38" font-weight="normal" font-style="normal" text-anchor="middle" fill="#000" >-</text><text x="2871.25" y="1295" font-family="Liberation Sans, sans-serif" font-size="38" font-weight="normal" font-style="normal" text-anchor="middle" fill="#000" >-</text><text x="3006.75" y="1295" font-family="Liberation Sans, sans-serif" font-size="38" font-weight="normal" font-style="normal" text-anchor="middle" fill="#000" >-</text><text x="3142.25" y="1295" font-family="Liberation Sans, sans-serif" font-size="38" font-weight="normal" font-style="normal" text-anchor="middle" fill="#000" >-</text><text x="2248" y="618.2" font-family="Liberation Sans, sans-serif" font-size="37.8" font-weight="bold" font-style="normal" text-anchor="middle" fill="#000" >Current</text><text x="2248" y="732.1" font-family="Liberation Sans, sans-serif" font-size="37.8" font-weight="bold" font-style="normal" text-anchor="middle" fill="#000" >Last Week</text><text x="2248" y="777.9" font-family="Liberation Sans, sans-serif" font-size="29.3" font-weight="normal" font-style="italic" text-anchor="middle" fill="#000" >07-06-2000</text><text x="2248" y="869" font-family="Liberation Sans, sans-serif" font-size="37.8" font-weight="bold" font-style="normal" text-anchor="middle" fill="#000" >3 Months Ago</text><text x="2248" y="912.6" font-family="Liberation Sans, sans-serif" font-size="29.3" font-weight="normal" font-style="italic" text-anchor="middle" fill="#000" >04-13-2000</text><text x="2244" y="983" font-family="Liberation Sans, sans-serif" font-size="37.8" font-weight="bold" font-style="normal" text-anchor="middle" fill="#000" >Start of</text><text x="2248" y="1027" font-family="Liberation Sans, sans-serif" font-size="37.8" font-weight="bold" font-style="normal" text-anchor="middle" fill="#000" >Calendar Year</text><text x="2248" y="1061" font-family="Liberation Sans, sans-serif" font-size="29.3" font-weight="normal" font-style="italic" text-anchor="middle" fill="#000" >01-06-2000</text><text x="2248" y="1118.7" font-family="Liberation Sans, sans-serif" font-size="37.8" font-weight="bold" font-style="normal" text-anchor="middle" fill="#000" >Start of</text><text x="2248" y="1162" font-family="Liberation Sans, sans-serif" font-size="37.8" font-weight="bold" font-style="normal" text-anchor="middle" fill="#000" >Water Year</text><text x="2248" y="1275" font-family="Liberation Sans, sans-serif" font-size="37.8" font-weight="bold" font-style="normal" text-anchor="middle" fill="#000" >One Year Ago</text><text x="2100" y="1433.1" font-family="Liberation Sans, sans-serif" font-size="50" font-weight="normal" font-style="italic" text-anchor="start" fill="#000" >Intensity:</text><text x="2222.5" y="1509.0" font-family="Liberation Sans, sans-serif" font-size="42" font-weight="normal" font-style="normal" text-anchor="start" fill="#000" >None</text><text x="2222.5" y="1587.1" font-family="Liberation Sans, sans-serif" font-size="42" font-weight="normal" font-style="normal" text-anchor="start" fill="#000" >D0 Abnormally Dry</text><text x="2222.5" y="1664.1" font-family="Liberation Sans, sans-serif" font-size="42" font-weight="normal" font-style="normal" text-anchor="start" fill="#000" >D1 Moderate Drought</text><text x="2786.2" y="1509.0" font-family="Liberation Sans, sans-serif" font-size="42" font-weight="normal" font-style="normal" text-anchor="start" fill="#000" >D2 Severe Drought</text><text x="2786.2" y="1587.1" font-family="Liberation Sans, sans-serif" font-size="42" font-weight="normal" font-style="normal" text-anchor="start" fill="#000" >D3 Extreme Drought</text><text x="2786.2" y="1664.1" font-family="Liberation Sans, sans-serif" font-size="42" font-weight="normal" font-style="normal" text-anchor="start" fill="#000" >D4 Exceptional Drought</text><text x="2102" y="1762.6" font-family="Liberation Sans, sans-serif" font-size="39.3" font-weight="normal" font-style="italic" text-anchor="start" fill="#000" >The Drought Monitor focuses on broad-scale conditions.</text><text x="2101" y="1807.7" font-family="Liberation Sans, sans-serif" font-size="39.3" font-weight="normal" font-style="italic" text-anchor="start" fill="#000" >Local conditions may vary. For more information on the</text><text x="2101" y="1852.7" font-family="Liberation Sans, sans-serif" font-size="39.3" font-weight="normal" font-style="italic" text-anchor="start" fill="#000" >Drought Monitor, go to https://droughtmonitor.unl.edu/About.aspx</text><text x="2099" y="1965.7" font-family="Liberation Sans, sans-serif" font-size="50" font-weight="normal" font-style="italic" text-anchor="start" fill="#000" >Author:</text><text x="2100" y="2028.6" font-family="Liberation Sans, sans-serif" font-size="46" font-weight="normal" font-style="normal" text-anchor="start" fill="#000" >Staff None</text><text x="2100" y="2088.9" font-family="Liberation Sans, sans-serif" font-size="46" font-weight="normal" font-style="normal" text-anchor="start" fill="#000" >National Drought Mitigation Center</text><text x="2665" y="2462" font-family="Liberation Sans, sans-serif" font-size="67" font-weight="bold" font-style="normal" text-anchor="middle" fill="#000" >droughtmonitor.unl.edu</text>
<g transform="translate(2090,2190) scale(0.100735)" fill="#231f20">
<text x="110" y="712" style="font-family:Liberation Serif,serif" font-weight="bold" font-size="864" textLength="1955" lengthAdjust="spacingAndGlyphs">USDA</text>
<polygon points="130,795 270,795 500,830 755,878 690,882 490,870 130,860"/>
<polygon points="130,925 320,915 575,925 480,935 130,990"/>
<polygon points="150,1122 400,1020 750,920 1100,855 1400,815 1660,795 2035,795 2035,870 1545,880 1100,955 700,1040 400,1080 150,1130"/>
<polygon points="130,1205 500,1100 900,1010 1300,955 1740,930 2035,930 2035,1465 130,1465"/>
</g>
<g transform="translate(2370,2160) scale(0.130310)">
<defs><clipPath id="ndmcclip"><circle cx="877" cy="845" r="637"/></clipPath>
<path id="ndmcTop" d="M198.7,940.3 A685,685 0 1 1 1555.3,940.3"/>
<path id="ndmcBot" d="M202.8,1145.2 A738,738 0 0 0 1551.2,1145.2"/>
</defs>
<circle cx="877" cy="845" r="637" fill="#231f20"/>
<g clip-path="url(#ndmcclip)">
<polygon points="150,900 250,975 290,1020 350,1060 420,1075 500,1050 600,1000 700,975 760,975 820,1000 880,1050 950,1100 1030,1120 1100,1105 1200,1060 1280,1040 1350,1040 1420,1060 1470,1080 1600,1100 1600,1160 1470,1160 1420,1150 1300,1170 1200,1210 1100,1270 1000,1290 900,1260 800,1210 720,1190 640,1210 560,1270 480,1335 300,1500 150,1500" fill="#fff"/>
<polygon points="280,1055 350,1100 420,1110 500,1080 600,1035 700,1015 780,1025 850,1075 920,1130 1000,1160 1080,1160 1180,1120 1270,1085 1350,1075 1440,1100 1440,1115 1300,1120 1200,1160 1100,1200 1000,1230 900,1220 800,1180 700,1150 600,1180 520,1240 450,1300 400,1280 340,1170" fill="#808080"/>
<g stroke="#fff" stroke-width="28" fill="none" stroke-linejoin="round">
<polyline points="735,1195 795,1330 680,1440"/><polyline points="795,1330 1060,1445"/><polyline points="1160,1245 1085,1445"/><polyline points="1220,1190 1340,1265"/>
</g></g>
<text x="882" y="905" font-family="Liberation Sans" font-weight="bold" font-size="468" fill="#fff" text-anchor="middle" textLength="955" lengthAdjust="spacingAndGlyphs">NDMC</text>
<g font-family="Liberation Sans" font-weight="bold" font-size="104" fill="#231f20">
<text><textPath href="#ndmcTop" startOffset="50%" text-anchor="middle" textLength="2230" lengthAdjust="spacingAndGlyphs">NATIONAL DROUGHT MITIGATION CENTER</textPath></text>
<text><textPath href="#ndmcBot" startOffset="50%" text-anchor="middle" textLength="1560" lengthAdjust="spacingAndGlyphs">UNIVERSITY OF NEBRASKA</textPath></text>
</g>
<circle cx="190" cy="1070" r="20" fill="#231f20"/><circle cx="1565" cy="1070" r="20" fill="#231f20"/>
</g>
<g transform="translate(2660,2160) scale(0.130310)">
<defs><path id="docTop" d="M244.4,742.0 A622,622 0 0 1 1469.6,742.0"/><path id="docBot" d="M144.1,1041.0 A738,738 0 0 0 1569.9,1041.0"/></defs>
<circle cx="857" cy="850" r="679" fill="#fff" stroke="#111" stroke-width="166"/>
<g font-family="Liberation Sans" font-weight="bold" font-size="122" fill="#fff">
<text><textPath href="#docTop" startOffset="50%" text-anchor="middle" textLength="1560" lengthAdjust="spacingAndGlyphs">DEPARTMENT OF COMMERCE</textPath></text>
<text><textPath href="#docBot" startOffset="50%" text-anchor="middle" textLength="1760" lengthAdjust="spacingAndGlyphs">UNITED STATES OF AMERICA</textPath></text>
</g>
<polygon points="180.0,813.0 189.9,841.4 219.9,842.0 196.0,860.2 204.7,889.0 180.0,871.8 155.3,889.0 164.0,860.2 140.1,842.0 170.1,841.4" fill="#fff"/><polygon points="1535.0,813.0 1544.9,841.4 1574.9,842.0 1551.0,860.2 1559.7,889.0 1535.0,871.8 1510.3,889.0 1519.0,860.2 1495.1,842.0 1525.1,841.4" fill="#fff"/>
<polygon points="514,714 1195,717 1147,765 1147,1198 855,1363 562,1185 562,765" fill="#c0c0c0" stroke="#1a1a1a" stroke-width="14" stroke-linejoin="round"/>
<polygon points="532,730 1177,730 1140,765 1140,1007 569,1007 569,765" fill="#808080"/>
<rect x="514" y="708" width="681" height="18" fill="#1a1a1a"/>
<line x1="566" y1="1010" x2="1143" y2="1010" stroke="#1a1a1a" stroke-width="12"/>
<polygon points="600,885 791,765 778,925" fill="#f0f0f0" stroke="#222" stroke-width="8"/>
<g fill="#f4f4f4" stroke="#222" stroke-width="8">
<rect x="785" y="790" width="67" height="48"/>
<rect x="785" y="842" width="67" height="46"/>
<rect x="785" y="892" width="67" height="43"/>
<rect x="860" y="790" width="80" height="48"/>
<rect x="860" y="842" width="80" height="46"/>
<rect x="860" y="892" width="80" height="43"/>
<rect x="952" y="790" width="93" height="48"/>
<rect x="952" y="842" width="93" height="46"/>
<rect x="952" y="892" width="93" height="43"/>
</g>
<g stroke="#222" stroke-width="7"><line x1="818" y1="760" x2="818" y2="935"/><line x1="900" y1="745" x2="900" y2="935"/><line x1="998" y1="770" x2="998" y2="935"/></g>
<polygon points="715,937 1039,937 1008,962 791,966" fill="#333"/>
<g stroke="#333" stroke-width="7"><line x1="600" y1="980" x2="700" y2="980"/><line x1="730" y1="985" x2="860" y2="985"/><line x1="900" y1="983" x2="1100" y2="983"/></g>
<g fill="#fff" opacity="0.9">
<rect x="620" y="1040" width="22" height="8"/>
<rect x="680" y="1060" width="22" height="8"/>
<rect x="740" y="1045" width="22" height="8"/>
<rect x="980" y="1045" width="22" height="8"/>
<rect x="1040" y="1060" width="22" height="8"/>
<rect x="1100" y="1040" width="22" height="8"/>
<rect x="640" y="1110" width="22" height="8"/>
<rect x="720" y="1100" width="22" height="8"/>
<rect x="1000" y="1100" width="22" height="8"/>
<rect x="1080" y="1110" width="22" height="8"/>
<rect x="600" y="1180" width="22" height="8"/>
<rect x="700" y="1160" width="22" height="8"/>
<rect x="1020" y="1160" width="22" height="8"/>
<rect x="1120" y="1180" width="22" height="8"/>
</g>
<polygon points="830,1035 870,1035 876,1300 824,1300" fill="#444" stroke="#1a1a1a" stroke-width="8"/>
<rect x="838" y="1060" width="22" height="230" fill="#888"/>
<polygon points="755,1305 945,1305 900,1340 800,1340" fill="#555"/>
<polygon points="651,332 804,453 842,517 842,612 804,638 753,549 702,447" fill="#8c8c8c" stroke="#333" stroke-width="9" stroke-linejoin="round"/>
<polygon points="1060,340 912,453 874,517 874,612 912,638 963,549 1014,447" fill="#8c8c8c" stroke="#333" stroke-width="9" stroke-linejoin="round"/>
<ellipse cx="858" cy="560" rx="50" ry="75" fill="#b0b0b0" stroke="#444" stroke-width="7"/>
<circle cx="858" cy="470" r="32" fill="#e0e0e0" stroke="#333" stroke-width="8"/>
<rect x="728" y="651" width="260" height="28" fill="#333"/>
</g>
<g transform="translate(2950,2160) scale(0.130310)">
<defs><path id="noaaTop" d="M192.3,1011.5 A655,655 0 1 1 1457.7,1011.5"/><path id="noaaBot" d="M201.5,1202.0 A720,720 0 0 0 1448.5,1202.0"/></defs>
<circle cx="825" cy="842" r="627" fill="#231f20"/>
<polygon points="320,475 380,520 440,580 500,650 560,740 620,820 690,900 760,945 850,965 930,935 1000,870 1060,780 1120,680 1180,590 1250,520 1330,465 1400,440 1420,560 1390,575 1330,640 1260,720 1180,800 1100,870 1030,920 960,965 1110,985 1000,1005 820,1080 720,1115 620,1095 800,1015 700,1000 600,980 500,935 400,855 300,755 230,680 150,650 250,420" fill="#fff"/>
<path fill="#fff" fill-rule="evenodd" d="M552,629 L552,460 L645,460 L660,475 L660,629 L620,629 L620,493 L591,493 L591,629 Z M700,460 L788,460 L798,470 L798,620 L788,629 L700,629 L690,620 L690,470 Z M729,493 L759,493 L759,595 L729,595 Z M846,460 L926,460 L936,470 L936,629 L904,629 L904,563 L867,563 L867,629 L836,629 L836,470 Z M867,493 L904,493 L904,528 L867,528 Z M968,460 L1056,460 L1066,470 L1066,629 L1034,629 L1034,563 L998,563 L998,629 L958,629 L958,470 Z M998,493 L1034,493 L1034,528 L998,528 Z"/>
<g font-family="Liberation Sans" font-size="84" fill="#231f20">
<text><textPath href="#noaaTop" startOffset="50%" text-anchor="middle" textLength="2450" lengthAdjust="spacingAndGlyphs">NATIONAL OCEANIC AND ATMOSPHERIC ADMINISTRATION</textPath></text>
<text><textPath href="#noaaBot" startOffset="50%" text-anchor="middle" textLength="1450" lengthAdjust="spacingAndGlyphs">U.S. DEPARTMENT OF COMMERCE</textPath></text>
</g>
</g>
</svg>
</body></html>
